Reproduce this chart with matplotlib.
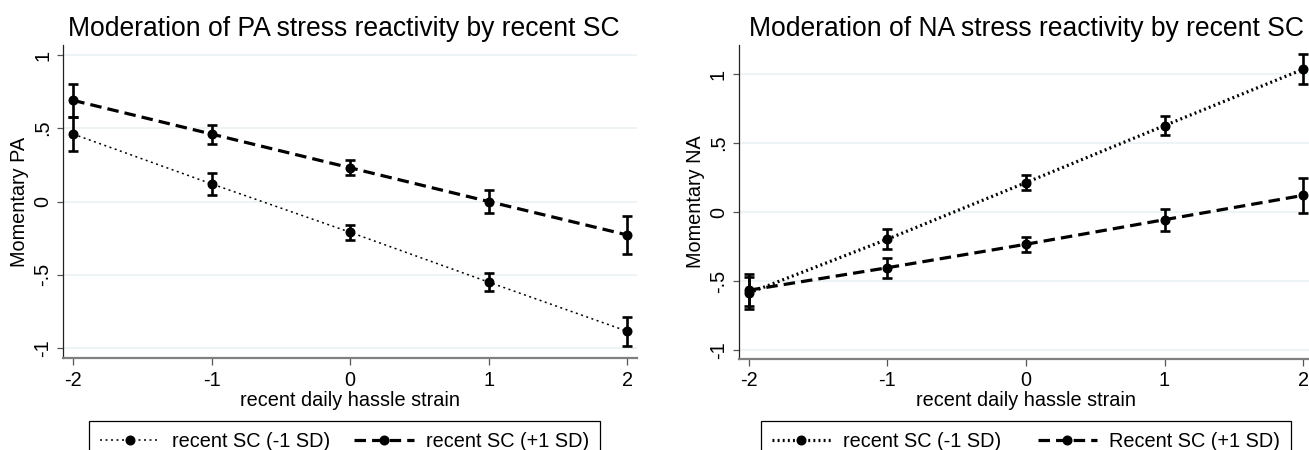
import matplotlib
matplotlib.use("Agg")
import matplotlib.pyplot as plt
from matplotlib.lines import Line2D

plt.rcParams['font.family'] = ['Liberation Sans', 'DejaVu Sans']

# ---- data ----
strain = [-2, -1, 0, 1, 2]
xtick_labels = ['-2', '-1', '0', '1', '2']
ytick_vals = [-1, -0.5, 0, 0.5, 1]
ytick_labels = ['-1', '-.5', '0', '.5', '1']

pa_low = [0.46, 0.12, -0.21, -0.55, -0.885]
pa_low_err = [0.115, 0.077, 0.05, 0.063, 0.10]
pa_high = [0.69, 0.46, 0.23, 0.00, -0.228]
pa_high_err = [0.11, 0.065, 0.05, 0.08, 0.13]

na_low = [-0.585, -0.195, 0.215, 0.628, 1.036]
na_low_err = [0.118, 0.073, 0.052, 0.067, 0.11]
na_high = [-0.565, -0.402, -0.232, -0.054, 0.122]
na_high_err = [0.116, 0.071, 0.053, 0.08, 0.128]

titles = ['Moderation of PA stress reactivity by recent SC',
          'Moderation of NA stress reactivity by recent SC']
ylabels = ['Momentary PA', 'Momentary NA']
xlabel = 'recent daily hassle strain'
legend_labels = [['recent SC (-1 SD)', 'recent SC (+1 SD)'],
                 ['recent SC (-1 SD)', 'Recent SC (+1 SD)']]

W, H = 1309, 450
fig = plt.figure(figsize=(W / 100, H / 100), dpi=100)

def fx(px):
    return px / W

def fy(py):
    return 1 - py / H

GRID = '#e9f0f2'
FS = 14.3

panels = [
    dict(rect=(63.3, 45, 637, 358), ylim=(-1.068, 1.068),
         low=pa_low, low_err=pa_low_err, high=pa_high, high_err=pa_high_err,
         dot_lw=1.1, dot_dash=(1.3, 2.3), title_x=344, leg=(89.3, 420.7, 600)),
    dict(rect=(739, 45, 1313, 358.5), ylim=(-1.06, 1.212),
         low=na_low, low_err=na_low_err, high=na_high, high_err=na_high_err,
         dot_lw=2.3, dot_dash=(0.6, 1.0), title_x=1026.5, leg=(760.7, 420.7, 1291)),
]

for i, p in enumerate(panels):
    x0, y0, x1, y1 = p['rect']
    ax = fig.add_axes([fx(x0), fy(y1), fx(x1) - fx(x0), fy(y0) - fy(y1)])
    ax.set_xlim(-2.072, 2.072)
    ax.set_ylim(*p['ylim'])
    for yv in ytick_vals:
        ax.axhline(yv, color=GRID, lw=1.1, zorder=0)

    # dotted series (-1 SD)
    ax.errorbar(strain, p['low'], yerr=p['low_err'], fmt='none', ecolor='black',
                elinewidth=1.9, capsize=3.3, capthick=1.9, zorder=3)
    l1, = ax.plot(strain, p['low'], color='black', lw=p['dot_lw'], marker='o',
                  markersize=6.2, zorder=4)
    l1.set_dashes(p['dot_dash'])
    l1.set_dash_capstyle('butt')

    # dashed series (+1 SD)
    ax.errorbar(strain, p['high'], yerr=p['high_err'], fmt='none', ecolor='black',
                elinewidth=1.9, capsize=3.3, capthick=1.9, zorder=3)
    l2, = ax.plot(strain, p['high'], color='black', lw=2.3, marker='o',
                  markersize=6.2, zorder=4)
    l2.set_dashes((3.6, 1.9))

    for s in ['top', 'right']:
        ax.spines[s].set_visible(False)
    ax.spines['left'].set_color('#222222')
    ax.spines['left'].set_linewidth(0.9)
    ax.spines['bottom'].set_color('#808080')
    ax.spines['bottom'].set_linewidth(1.6)

    ax.set_xticks(strain)
    ax.set_xticklabels(xtick_labels, fontsize=FS)
    ax.set_yticks(ytick_vals)
    ax.set_yticklabels(ytick_labels, fontsize=FS, rotation=90, va='center')
    ax.tick_params(axis='y', length=4.5, width=0.9, color='#555555', pad=3.5)
    ax.tick_params(axis='x', length=5, width=0.9, color='#555555', pad=4)

    ax.set_xlabel(xlabel, fontsize=FS, labelpad=1)
    ax.set_ylabel(ylabels[i], fontsize=FS, labelpad=3)

    fig.text(fx(p['title_x']), fy(35.5), titles[i], fontsize=19.1,
             ha='center', va='baseline')

    lx0, ly0, lx1 = p['leg']
    h1 = Line2D([], [], color='black', lw=p['dot_lw'], marker='o', markersize=6.2)
    h1.set_dashes(p['dot_dash'])
    h2 = Line2D([], [], color='black', lw=2.3, marker='o', markersize=6.2)
    h2.set_dashes((3.6, 1.9))
    leg = fig.legend([h1, h2], legend_labels[i], loc='upper left',
                     bbox_to_anchor=(fx(lx0), fy(ly0), fx(lx1) - fx(lx0), 0.0001),
                     mode='expand', ncol=2, fontsize=FS, frameon=True,
                     fancybox=False, edgecolor='black', framealpha=1,
                     borderpad=0.55, handlelength=3.0, handletextpad=0.6,
                     borderaxespad=0, numpoints=1)
    leg.get_frame().set_linewidth(0.9)

fig.savefig('out.png', dpi=100)
